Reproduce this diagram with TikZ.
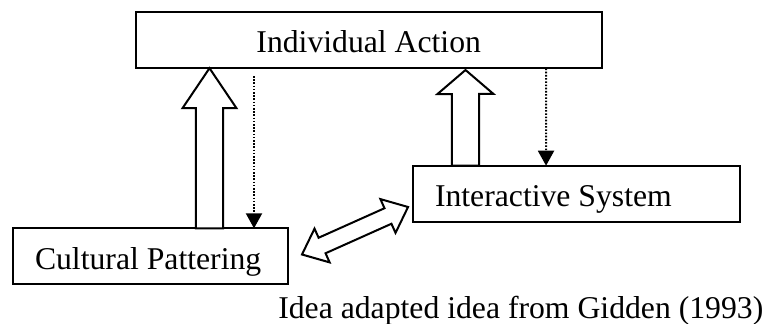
\documentclass[tikz,border=0pt]{standalone}
\usepackage{fontspec}
\setmainfont{Liberation Serif}
\usetikzlibrary{calc,arrows.meta}
\newcommand{\myblockarrow}[6]{% #1 name, #2 start, #3 tip, #4 shaft half width, #5 head half width, #6 head length
  \coordinate (#1h) at ($(#3)!#6!(#2)$);
  \draw[blockline] ($(#2)!#4!90:(#3)$) -- ($(#1h)!#4!90:(#3)$) -- ($(#1h)!#5!90:(#3)$) -- (#3)
    -- ($(#1h)!#5!-90:(#3)$) -- ($(#1h)!#4!-90:(#3)$) -- ($(#2)!#4!-90:(#3)$) -- cycle;
}
\newcommand{\mydoublearrow}[6]{% #1 name, #2 tip one, #3 tip two, #4 shaft half width, #5 head half width, #6 head length
  \coordinate (#1a) at ($(#2)!#6!(#3)$);
  \coordinate (#1b) at ($(#3)!#6!(#2)$);
  \draw[blockline] ($(#1a)!#4!90:(#3)$) -- ($(#1b)!#4!90:(#3)$) -- ($(#1b)!#5!90:(#3)$) -- (#3)
    -- ($(#1b)!#5!-90:(#3)$) -- ($(#1b)!#4!-90:(#3)$) -- ($(#1a)!#4!-90:(#3)$)
    -- ($(#1a)!#5!-90:(#3)$) -- (#2) -- ($(#1a)!#5!90:(#3)$) -- cycle;
}
\begin{document}
\begin{tikzpicture}[x=1pt,y=-1pt,
  box/.style={draw, line width=2pt, inner sep=0pt, outer sep=0pt},
  txt/.style={inner sep=0pt, outer sep=0pt, font=\fontsize{31.7}{38}\selectfont},
  blockline/.style={draw, fill=white, line width=2pt, line join=miter},
  dotline/.style={line width=2pt, dash pattern=on 1.6pt off 1.6pt, -{Triangle[width=16pt,length=15pt]}}]
\useasboundingbox (0,0) rectangle (766,324);
% boxes
\node[box, minimum width=466pt, minimum height=56pt] (ia) at (368.7,39.7) {};
\node[box, minimum width=326.7pt, minimum height=56.6pt] (is) at (576.7,194) {};
\node[box, minimum width=275pt, minimum height=55.7pt] (cp) at (150.8,256.2) {};
% texts
\node[txt, anchor=base] (iat) at (368.7,52.3) {Individual Action};
\node[txt, anchor=base west] (ist) at (435,206.7) {Interactive System};
\node[txt, anchor=base west] (cpt) at (35,269.3) {Cultural Pattering};
\node[txt, anchor=base west] (cap) at (278.3,318.3) {Idea adapted idea from Gidden (1993)};
% block arrows
\coordinate (a1s) at ($(cp.north west)+(196.2,0)$);
\coordinate (a1t) at ($(ia.south west)+(73.8,0.5)$);
\myblockarrow{a1}{a1s}{a1t}{13.7pt}{27pt}{40pt}
\coordinate (a2s) at ($(is.north west)+(52.2,0)$);
\coordinate (a2t) at ($(ia.south west)+(329.8,2.3)$);
\myblockarrow{a2}{a2s}{a2t}{13.6pt}{28pt}{24pt}
\coordinate (d1) at ($(cp.east)+(13.7,-1.7)$);
\coordinate (d2) at ($(is.west)+(-5.3,13)$);
\mydoublearrow{da}{d1}{d2}{8.5pt}{18.5pt}{22pt}
% dotted arrows
\coordinate (p1s) at ($(ia.south west)+(118.3,8.3)$);
\coordinate (p1t) at ($(cp.north west)+(240.7,0)$);
\draw[dotline] (p1s) -- (p1t);
\coordinate (p2s) at ($(ia.south west)+(410.3,0.8)$);
\coordinate (p2t) at ($(is.north west)+(132.7,0)$);
\draw[dotline] (p2s) -- (p2t);
\end{tikzpicture}
\end{document}
